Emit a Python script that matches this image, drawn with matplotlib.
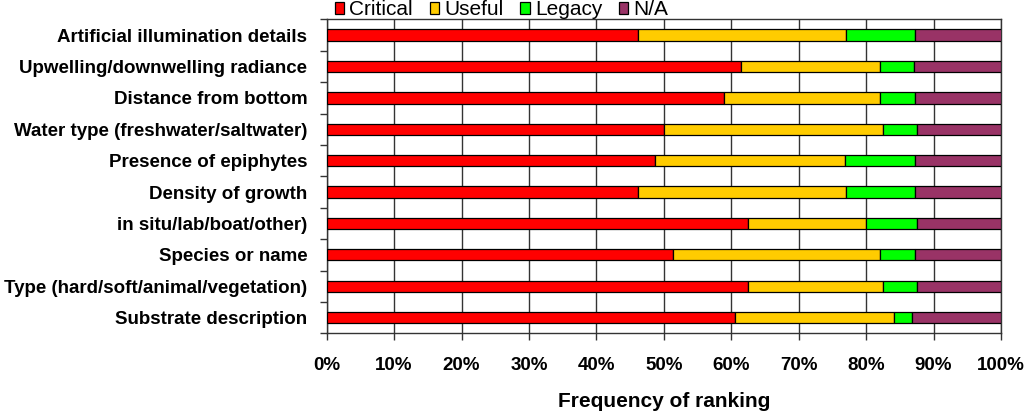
import numpy as np
import matplotlib
matplotlib.use("Agg")
import matplotlib.pyplot as plt
from matplotlib.ticker import MultipleLocator, PercentFormatter

plt.rcParams['font.family'] = ['Liberation Sans', 'DejaVu Sans']

# top to bottom as in the picture
categories = ["Artificial illumination details", "Upwelling/downwelling radiance",
              "Distance from bottom", "Water type (freshwater/saltwater)",
              "Presence of epiphytes", "Density of growth", "in situ/lab/boat/other)",
              "Species or name", "Type (hard/soft/animal/vegetation)", "Substrate description"]
critical = [46.2, 61.5, 59.0, 50.0, 48.7, 46.2, 62.5, 51.3, 62.5, 60.5]
useful = [30.8, 20.5, 23.1, 32.5, 28.2, 30.8, 17.5, 30.8, 20.0, 23.7]
legacy = [10.3, 5.1, 5.1, 5.0, 10.3, 10.3, 7.5, 5.1, 5.0, 2.6]
na = [12.8, 12.9, 12.8, 12.5, 12.8, 12.8, 12.5, 12.8, 12.5, 13.2]

series = [("Critical", critical, "#FF0000"), ("Useful", useful, "#FFCC00"),
          ("Legacy", legacy, "#00FF00"), ("N/A", na, "#993366")]

fig = plt.figure(figsize=(10.24, 4.12), dpi=100)
ax = fig.add_axes([0.319, 0.191, 0.6585, 0.762])

y = np.arange(len(categories))
left = np.zeros(len(categories))
for name, vals, color in series:
    ax.barh(y, vals, left=left, height=0.36, color=color, edgecolor="black",
            linewidth=0.9, label=name, zorder=3)
    left += np.array(vals)

ax.set_xlim(0, 100)
ax.set_ylim(len(categories) - 0.5, -0.5)
ax.xaxis.set_major_locator(MultipleLocator(10))
ax.xaxis.set_major_formatter(PercentFormatter(decimals=0))
ax.grid(axis="x", color="#333333", linewidth=1.0, zorder=0)

ax.set_yticks(y)
ax.set_yticklabels(categories, fontsize=13.5, fontweight="bold")
ax.set_yticks(np.arange(len(categories) + 1) - 0.5, minor=True)
ax.tick_params(axis="y", which="major", length=0, pad=14)
ax.tick_params(axis="y", which="minor", length=5, width=1, color="#333333")
ax.tick_params(axis="x", length=5, width=1, color="#333333", labelsize=13.5, pad=12)
for lab in ax.get_xticklabels():
    lab.set_fontweight("bold")
for s in ax.spines.values():
    s.set_linewidth(1.0)
    s.set_color("#333333")

ax.set_xlabel("Frequency of ranking", fontsize=15, fontweight="bold")
ax.xaxis.set_label_coords(0.5, -0.188)

fig.legend(loc="center left", bbox_to_anchor=(0.327, 0.976), ncol=4, frameon=False,
           fontsize=15, handlelength=0.45, handleheight=0.45, handletextpad=0.25,
           columnspacing=0.8, borderaxespad=0, borderpad=0)

fig.savefig("out.png", dpi=100)
